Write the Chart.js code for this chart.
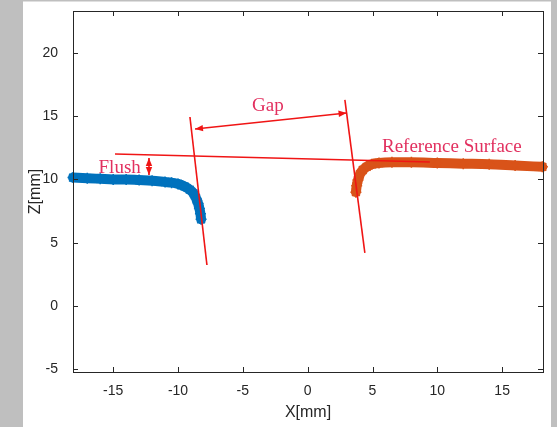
<!DOCTYPE html>
<html>
<head>
<meta charset="utf-8">
<script src="https://cdn.jsdelivr.net/npm/chart.js@4.4.1/dist/chart.umd.min.js"></script>
<style>
    html, body { margin: 0; padding: 0; background: #fff; }
    #wrap { width: 557px; height: 427px; position: relative; }
</style>
</head>
<body>
<div id="wrap"><canvas id="gapChart"></canvas></div>
<script>
// profile of the left panel (blue) and right panel (orange)
const blueX = [-18.1, -17, -16, -15, -14, -13, -12, -11, -10.5, -10, -9.5, -9.1, -8.8, -8.6, -8.45, -8.35, -8.27, -8.22];
const blueZ = [10.15, 10.1, 10.05, 10.0, 10.0, 9.95, 9.9, 9.8, 9.75, 9.65, 9.45, 9.2, 8.9, 8.5, 8.1, 7.7, 7.3, 6.85];
const orangeX = [3.72, 3.78, 3.88, 4.02, 4.25, 4.55, 4.95, 5.5, 6.5, 8, 10, 12, 14, 16, 18.1];
const orangeZ = [9.0, 9.5, 9.95, 10.4, 10.75, 11.0, 11.2, 11.3, 11.35, 11.35, 11.3, 11.25, 11.2, 11.1, 11.0];

// red construction lines
const leftCutX = [-9.08, -7.77];
const leftCutZ = [14.93, 3.25];
const rightCutX = [2.87, 4.41];
const rightCutZ = [16.28, 4.2];
const refLineX = [-14.86, 9.42];
const refLineZ = [12.01, 11.38];
const gapArrowX = [-8.69, 3.0];
const gapArrowZ = [13.99, 15.25];
const flushArrowX = [-12.24, -12.24];
const flushArrowZ = [11.7, 10.36];

const noteText = ['Flush', 'Gap', 'Reference Surface'];
const noteX = [-14.5, -3.07, 11.12];
const noteZ = [10.92, 15.8, 12.56];

const xTicks = [-15, -10, -5, 0, 5, 10, 15];
const zTicks = [-5, 0, 5, 10, 15, 20];

const pts = (xs, ys) => xs.map((x, i) => ({ x, y: ys[i] }));
const AXIS = '#262626';
const RED = '#f01515';
const NOTE = '#e2305f';
const SANS = '"Liberation Sans", Arial, sans-serif';

const redLine = (xs, ys) => ({
    data: pts(xs, ys),
    showLine: true,
    borderColor: RED,
    borderWidth: 1.6,
    pointRadius: 0,
    order: 1,
    clip: false,
});

const profile = (xs, ys, color) => ({
    data: pts(xs, ys),
    showLine: true,
    borderColor: color,
    backgroundColor: color,
    borderWidth: 10,
    borderCapStyle: 'round',
    cubicInterpolationMode: 'monotone',
    pointStyle: 'star',
    pointRadius: 5.5,
    pointBorderWidth: 1.5,
    order: 2,
    clip: false,
});

const arrowHead = (ctx, fx, fy, tx, ty) => {
    const a = Math.atan2(ty - fy, tx - fx);
    const len = 8, hw = 3.2;
    ctx.beginPath();
    ctx.moveTo(tx, ty);
    ctx.lineTo(tx - len * Math.cos(a) + hw * Math.sin(a), ty - len * Math.sin(a) - hw * Math.cos(a));
    ctx.lineTo(tx - len * Math.cos(a) - hw * Math.sin(a), ty - len * Math.sin(a) + hw * Math.cos(a));
    ctx.closePath();
    ctx.fill();
};

const figurePlugin = {
    id: 'figure',
    beforeDraw(chart) {
        const { ctx, width, height } = chart;
        ctx.save();
        ctx.fillStyle = '#ffffff';
        ctx.fillRect(0, 0, width, height);
        ctx.fillStyle = '#bfbfbf';
        ctx.fillRect(0, 0, 23, height);
        ctx.fillRect(0, 0, width, 1.5);
        ctx.fillRect(551, 0, width - 551, height);
        ctx.restore();
    },
    afterDraw(chart) {
        const { ctx, chartArea: a, scales: { x, y } } = chart;
        ctx.save();
        // box and inward ticks
        ctx.strokeStyle = AXIS;
        ctx.lineWidth = 1;
        ctx.strokeRect(a.left + 0.5, a.top + 0.5, a.right - a.left, a.bottom - a.top);
        ctx.beginPath();
        xTicks.forEach(v => {
            const px = Math.round(x.getPixelForValue(v)) + 0.5;
            ctx.moveTo(px, a.bottom); ctx.lineTo(px, a.bottom - 5);
            ctx.moveTo(px, a.top); ctx.lineTo(px, a.top + 5);
        });
        zTicks.forEach(v => {
            const py = Math.round(y.getPixelForValue(v)) + 0.5;
            ctx.moveTo(a.left, py); ctx.lineTo(a.left + 5, py);
            ctx.moveTo(a.right, py); ctx.lineTo(a.right - 5, py);
        });
        ctx.stroke();

        // arrow heads on both ends of the gap and flush arrows
        ctx.fillStyle = RED;
        [[gapArrowX, gapArrowZ], [flushArrowX, flushArrowZ]].forEach(([xs, zs]) => {
            const x0 = x.getPixelForValue(xs[0]), y0 = y.getPixelForValue(zs[0]);
            const x1 = x.getPixelForValue(xs[1]), y1 = y.getPixelForValue(zs[1]);
            arrowHead(ctx, x1, y1, x0, y0);
            arrowHead(ctx, x0, y0, x1, y1);
        });

        // notes
        ctx.fillStyle = NOTE;
        ctx.font = '19px "Liberation Serif", "Times New Roman", serif';
        ctx.textAlign = 'center';
        ctx.textBaseline = 'middle';
        noteText.forEach((t, i) => {
            ctx.fillText(t, x.getPixelForValue(noteX[i]), y.getPixelForValue(noteZ[i]));
        });
        ctx.restore();
    },
};

new Chart(document.getElementById('gapChart'), {
    type: 'scatter',
    data: {
        datasets: [
            redLine(leftCutX, leftCutZ),
            redLine(rightCutX, rightCutZ),
            redLine(refLineX, refLineZ),
            redLine(gapArrowX, gapArrowZ),
            redLine(flushArrowX, flushArrowZ),
            profile(blueX, blueZ, '#0072bd'),
            profile(orangeX, orangeZ, '#d95319'),
        ],
    },
    options: {
        responsive: true,
        maintainAspectRatio: false,
        animation: false,
        layout: { padding: { left: 23, top: 11, right: 14, bottom: 0 } },
        plugins: { legend: { display: false }, tooltip: { enabled: false } },
        scales: {
            x: {
                type: 'linear',
                min: -18.1,
                max: 18.15,
                afterBuildTicks: s => { s.ticks = xTicks.map(v => ({ value: v })); },
                afterFit: s => { s.height = 55; s.paddingLeft = 0; s.paddingRight = 0; },
                grid: { display: false },
                border: { display: false },
                ticks: { color: AXIS, padding: 3, maxRotation: 0, font: { family: SANS, size: 14 } },
                title: { display: true, text: 'X[mm]', color: AXIS, padding: { top: 0, bottom: 5 }, font: { family: SANS, size: 16 } },
            },
            y: {
                type: 'linear',
                min: -5.2,
                max: 23.3,
                afterBuildTicks: s => { s.ticks = zTicks.map(v => ({ value: v })); },
                afterFit: s => { s.width = 50; s.paddingTop = 0; s.paddingBottom = 0; },
                grid: { display: false },
                border: { display: false },
                ticks: { color: AXIS, padding: 7, font: { family: SANS, size: 14 } },
                title: { display: true, text: 'Z[mm]', color: AXIS, padding: { top: 3, bottom: 0 }, font: { family: SANS, size: 16 } },
            },
        },
    },
    plugins: [figurePlugin],
});
</script>
</body>
</html>
